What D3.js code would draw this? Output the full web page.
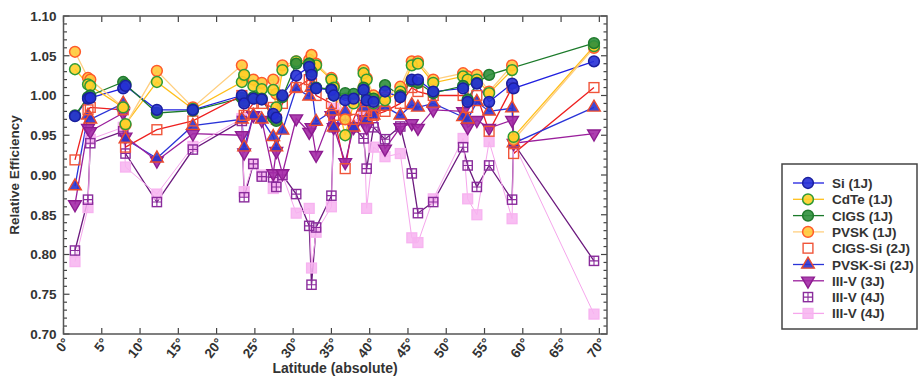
<!DOCTYPE html>
<html><head><meta charset="utf-8">
<script src="https://cdn.jsdelivr.net/npm/d3@7"></script>
<style>
body{margin:0;background:#fff;}
svg{display:block;font-family:"Liberation Sans",Arial,sans-serif;}
</style></head>
<body><svg id="c" width="918" height="378"></svg>
<script>
// Site latitudes (absolute, degrees)
const latitudes = [1.5,3.2,3.5,7.8,8.1,12.2,16.9,23.3,23.6,24.8,25.9,27.4,27.8,28.6,30.4,32.1,32.4,33.0,35.0,35.3,36.8,37.9,39.2,39.6,40.5,42.0,44.0,45.5,46.3,48.3,52.2,52.8,54.0,55.6,58.6,58.8,69.3];

const si      = [0.974,0.996,0.997,1.009,1.012,0.982,0.982,1.000,0.990,0.996,0.995,0.977,0.972,1.000,1.025,1.036,1.026,1.009,1.007,1.000,0.994,0.996,1.007,0.994,0.992,1.005,0.998,1.020,1.020,1.005,1.009,0.992,1.015,0.992,1.015,1.009,1.043];
const cdte    = [1.033,1.014,1.012,0.985,0.964,1.017,0.983,1.017,1.026,1.012,1.008,1.007,0.985,1.032,1.043,1.040,1.030,1.038,1.020,1.010,0.950,0.990,1.028,1.020,0.990,0.994,1.005,1.038,1.040,1.016,1.024,1.020,1.020,1.003,1.032,0.948,1.062];
const cigs    = [0.975,0.998,1.000,1.017,1.014,0.978,0.981,0.997,0.993,0.998,0.996,0.972,0.968,0.998,1.040,1.040,1.030,1.010,1.008,1.000,1.003,1.002,1.010,0.998,0.996,1.013,1.000,1.018,1.016,1.003,1.012,0.995,1.016,1.026,null,null,1.066];
const pvsk    = [1.055,1.022,1.020,0.985,0.963,1.031,0.985,1.038,1.024,1.020,1.016,1.020,1.002,1.038,1.043,1.045,1.051,1.040,1.022,1.012,0.970,0.995,1.032,1.022,1.000,0.998,1.011,1.043,1.043,1.020,1.028,1.024,1.026,1.005,1.038,0.944,1.060];
const cigsSi  = [0.919,0.982,0.985,0.982,0.935,0.957,0.968,1.000,0.975,0.990,0.990,0.985,0.970,0.990,1.010,1.020,1.015,1.000,0.990,0.975,0.908,0.970,1.000,0.980,0.975,0.980,0.990,1.010,1.005,1.000,1.000,0.985,1.000,0.955,1.010,0.927,1.010];
const pvskSi  = [0.886,0.975,0.970,0.990,0.945,0.921,0.962,0.970,0.935,0.975,0.970,0.948,0.935,0.956,1.009,0.999,1.010,0.967,0.980,0.960,0.980,0.960,0.985,0.970,0.975,0.986,0.975,0.988,0.985,0.990,0.973,0.970,0.992,0.980,0.984,0.940,0.985];
const iiiv3J  = [0.863,0.959,0.955,0.978,0.948,0.918,0.952,0.950,0.928,0.975,0.969,0.902,0.930,0.902,0.971,0.954,0.960,0.925,0.975,0.960,0.916,0.960,0.970,0.960,0.982,0.933,0.960,0.965,0.959,0.982,0.980,0.960,0.969,0.959,0.969,0.940,0.952];
const iiiv4Ja = [0.805,0.869,0.940,0.955,0.927,0.866,0.932,0.968,0.872,0.914,0.898,0.897,0.885,0.900,0.876,0.836,0.762,0.834,0.874,0.960,0.970,0.960,0.946,0.908,0.960,0.945,0.961,0.902,0.852,0.866,0.935,0.912,0.885,0.912,0.869,0.940,0.792];
const iiiv4Jb = [0.791,0.859,0.945,0.960,0.910,0.876,0.936,0.971,0.879,0.914,0.900,0.883,0.890,0.900,0.852,0.858,0.783,0.828,0.860,0.984,0.978,0.963,0.980,0.858,0.935,0.923,0.927,0.821,0.815,0.870,0.946,0.870,0.850,0.942,0.845,0.940,0.725];

const seriesNames = ["Si (1J)","CdTe (1J)","CIGS (1J)","PVSK (1J)","CIGS-Si (2J)","PVSK-Si (2J)","III-V (3J)","III-V (4J)","III-V (4J)"];
const xTicks = [0,5,10,15,20,25,30,35,40,45,50,55,60,65,70];
const yTicks = [0.70,0.75,0.80,0.85,0.90,0.95,1.00,1.05,1.10];

const styles = [
  {v:si,     sym:"circle",  fill:"#2630d6", stroke:"#1a1f9e", line:"#2020e0", hollow:false},
  {v:cdte,   sym:"circle",  fill:"#ffd028", stroke:"#2f9a35", line:"#ffbf1a", hollow:false},
  {v:cigs,   sym:"circle",  fill:"#2f8f3c", stroke:"#1f7a2c", line:"#1b7a2a", hollow:false},
  {v:pvsk,   sym:"circle",  fill:"#ffc93a", stroke:"#ff5a2a", line:"#ffcf80", hollow:false},
  {v:cigsSi, sym:"square",  fill:"none",    stroke:"#f0553a", line:"#ee2020", hollow:true},
  {v:pvskSi, sym:"tri",     fill:"#2a34d0", stroke:"#ea4a2e", line:"#2a34d8", hollow:false},
  {v:iiiv3J, sym:"tridown", fill:"#a32aa6", stroke:"#8d1c90", line:"#9a1f9c", hollow:false},
  {v:iiiv4Ja,sym:"sqcross", fill:"#fff",    stroke:"#8a2c9c", line:"#6c1a7e", hollow:true},
  {v:iiiv4Jb,sym:"square",  fill:"#f7b3f0", stroke:"#f7b3f0", line:"#f6a6ec", hollow:false}
];

const svg = d3.select("#c");
const L=63.5, R=607, T=16, B=334;
const x = d3.scaleLinear().domain([0,71]).range([L,R]);
const y = d3.scaleLinear().domain([0.70,1.10]).range([B,T]);

const yAxis = d3.axisLeft(y).tickValues(yTicks).tickFormat(d3.format(".2f")).tickSize(0).tickPadding(7);
const gy = svg.append("g").attr("transform",`translate(${L},0)`).call(yAxis);
gy.select(".domain").remove();
gy.selectAll("text").attr("font-size",13.5).attr("font-weight","bold").attr("fill","#333");

const xAxis = d3.axisBottom(x).tickValues(xTicks).tickFormat(d=>d+"°").tickSize(0);
const gx = svg.append("g").attr("transform",`translate(0,${B})`).call(xAxis);
gx.select(".domain").remove();
gx.selectAll("text").attr("font-size",13.5).attr("font-weight","bold").attr("fill","#333")
  .attr("text-anchor","end").attr("dy",0)
  .attr("transform","translate(4,7) rotate(-52)");

const tk = svg.append("g").attr("stroke","#444").attr("stroke-width",1.2);
const minorY = d3.range(0.70,1.1001,0.01);
minorY.forEach(v=>{
  const major = Math.abs(Math.round(v*20)-v*20)<1e-6;
  const len = major?6:3.5;
  tk.append("line").attr("x1",L).attr("x2",L+len).attr("y1",y(v)).attr("y2",y(v));
  tk.append("line").attr("x1",R).attr("x2",R-len).attr("y1",y(v)).attr("y2",y(v));
});
xTicks.forEach(v=>{
  tk.append("line").attr("x1",x(v)).attr("x2",x(v)).attr("y1",B).attr("y2",B-6);
  tk.append("line").attr("x1",x(v)).attr("x2",x(v)).attr("y1",T).attr("y2",T+6);
});
svg.append("rect").attr("x",L).attr("y",T).attr("width",R-L).attr("height",B-T)
  .attr("fill","none").attr("stroke","#555").attr("stroke-width",1.5);

svg.append("text").attr("transform",`translate(19,${(T+B)/2}) rotate(-90)`)
  .attr("text-anchor","middle").attr("font-size",13.5).attr("font-weight","bold").attr("fill","#333")
  .text("Relative Efficiency");
svg.append("text").attr("x",335).attr("y",373).attr("text-anchor","middle")
  .attr("font-size",14).attr("font-weight","bold").attr("fill","#333")
  .text("Latitude (absolute)");

function drawMarker(g, s, cx, cy, scale){
  const k = scale||1;
  if(s.sym==="circle"){
    g.append("circle").attr("cx",cx).attr("cy",cy).attr("r",5.4*k)
      .attr("fill",s.fill).attr("stroke",s.stroke).attr("stroke-width",1.5).attr("fill-opacity",0.9);
  } else if(s.sym==="square"){
    const h=4.9*k;
    g.append("rect").attr("x",cx-h).attr("y",cy-h).attr("width",2*h).attr("height",2*h)
      .attr("fill",s.fill).attr("stroke",s.stroke).attr("stroke-width",1.4).attr("fill-opacity",0.85);
  } else if(s.sym==="sqcross"){
    const h=4.6*k;
    g.append("rect").attr("x",cx-h).attr("y",cy-h).attr("width",2*h).attr("height",2*h)
      .attr("fill","none").attr("stroke",s.stroke).attr("stroke-width",1.4);
    g.append("path").attr("d",`M${cx-h},${cy}H${cx+h}M${cx},${cy-h}V${cy+h}`)
      .attr("stroke",s.stroke).attr("stroke-width",1.1);
  } else {
    const sym = d3.symbol().type(d3.symbolTriangle).size(70*k*k);
    g.append("path").attr("d",sym()).attr("transform",`translate(${cx},${cy}) rotate(${s.sym==="tridown"?180:0})`)
      .attr("fill",s.fill).attr("stroke",s.stroke).attr("stroke-width",1.4).attr("fill-opacity",0.9);
  }
}

const lineGen = d3.line().x(d=>x(d[0])).y(d=>y(d[1]));
const pts = styles.map(s=>latitudes.map((la,i)=>[la,s.v[i]]).filter(d=>d[1]!==null));
const lg = svg.append("g");
styles.forEach((s,i)=>{
  lg.append("path").attr("d",lineGen(pts[i])).attr("fill","none")
    .attr("stroke",s.line).attr("stroke-width",i===8?1:1.3);
});
const mg = svg.append("g");
[8,7,6,5,4,3,1,2,0].forEach(i=>{
  const g = mg.append("g");
  pts[i].forEach(d=>drawMarker(g, styles[i], x(d[0]), y(d[1])));
});

const lgX=782, lgY=164;
svg.append("rect").attr("x",lgX).attr("y",lgY).attr("width",135).attr("height",165)
  .attr("fill","#fff").attr("stroke","#444").attr("stroke-width",1.5);
styles.forEach((s,i)=>{
  const cy = lgY+19+i*16.3;
  if(s.sym!=="sqcross" && !(s.hollow))
    svg.append("line").attr("x1",793).attr("x2",824).attr("y1",cy).attr("y2",cy).attr("stroke",s.line).attr("stroke-width",1.3);
  drawMarker(svg, s, 808, cy, 1);
  svg.append("text").attr("x",832).attr("y",cy+5).attr("font-size",13.5).attr("font-weight","bold")
    .attr("fill","#333").text(seriesNames[i]);
});
</script></body></html>
